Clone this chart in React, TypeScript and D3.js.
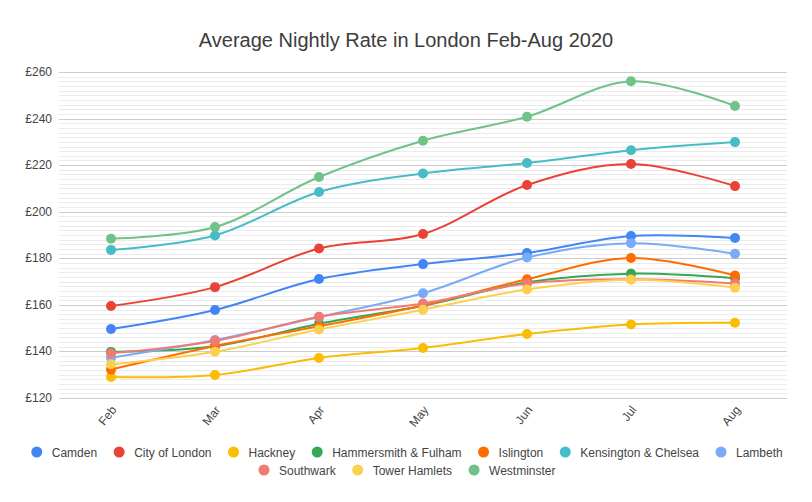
import { useEffect, useRef } from 'react';
import * as d3 from 'd3';

const months = ['Feb', 'Mar', 'Apr', 'May', 'Jun', 'Jul', 'Aug'];

const camden = [149.6, 157.8, 171.1, 177.5, 182.3, 189.6, 188.7];
const cityOfLondon = [159.5, 167.6, 184.2, 190.4, 211.5, 220.5, 211.0];
const hackney = [129.0, 129.9, 137.2, 141.5, 147.5, 151.6, 152.3];
const hammersmith = [139.8, 142.2, 151.9, 159.6, 169.7, 173.4, 171.4];
const islington = [132.2, 142.3, 150.8, 159.7, 171.0, 180.1, 172.6];
const kensington = [183.6, 189.8, 208.5, 216.4, 220.9, 226.4, 229.9];
const lambeth = [137.3, 144.9, 154.8, 165.0, 180.3, 186.5, 181.9];
const southwark = [139.2, 144.5, 154.9, 160.6, 169.2, 171.0, 169.2];
const towerHamlets = [134.5, 139.9, 149.4, 157.9, 166.6, 170.8, 167.4];
const westminster = [188.4, 193.4, 214.9, 230.5, 240.8, 256.0, 245.4];

const seriesNames = [
  'Camden',
  'City of London',
  'Hackney',
  'Hammersmith & Fulham',
  'Islington',
  'Kensington & Chelsea',
  'Lambeth',
  'Southwark',
  'Tower Hamlets',
  'Westminster',
];
const seriesValues = [
  camden, cityOfLondon, hackney, hammersmith, islington,
  kensington, lambeth, southwark, towerHamlets, westminster,
];
const colors = [
  '#4285F4', '#EA4335', '#FBBC04', '#34A853', '#FF6D01',
  '#46BDC6', '#7BAAF7', '#F07B72', '#FCD04F', '#71C287',
];

const yTicks = [120, 140, 160, 180, 200, 220, 240, 260];
const title = 'Average Nightly Rate in London Feb-Aug 2020';

const W = 812;
const H = 502;
const FONT = '"Liberation Sans", Arial, sans-serif';

export default function App() {
  const svgRef = useRef<SVGSVGElement>(null);

  useEffect(() => {
    if (!svgRef.current) return;
    const svg = d3.select(svgRef.current);
    svg.selectAll('*').remove();

    const left = 59;
    const right = 787;
    const top = 72;
    const bottom = 398;

    const x = d3.scaleBand().domain(months).range([left, right]);
    const y = d3.scaleLinear().domain([120, 260]).range([bottom, top]);
    const cx = (m: string) => (x(m) ?? 0) + x.bandwidth() / 2;

    svg.append('rect').attr('width', W).attr('height', H).attr('fill', '#fff');

    svg.append('text')
      .attr('x', 406)
      .attr('y', 47)
      .attr('text-anchor', 'middle')
      .attr('fill', '#3c3c3c')
      .style('font-family', FONT)
      .style('font-size', '20px')
      .text(title);

    // minor gridlines every £2
    const minor = d3.range(122, 260, 2).filter((v) => v % 20 !== 0);
    svg.append('g')
      .selectAll('line')
      .data(minor)
      .join('line')
      .attr('x1', left)
      .attr('x2', right)
      .attr('y1', (d) => Math.round(y(d)) + 0.5)
      .attr('y2', (d) => Math.round(y(d)) + 0.5)
      .attr('stroke', '#ebebeb');

    svg.append('g')
      .selectAll('line')
      .data(yTicks)
      .join('line')
      .attr('x1', left)
      .attr('x2', right)
      .attr('y1', (d) => Math.round(y(d)) + 0.5)
      .attr('y2', (d) => Math.round(y(d)) + 0.5)
      .attr('stroke', '#cccccc');

    svg.append('g')
      .selectAll('text')
      .data(yTicks)
      .join('text')
      .attr('x', 52)
      .attr('y', (d) => y(d) + 4)
      .attr('text-anchor', 'end')
      .attr('fill', '#444')
      .style('font-family', FONT)
      .style('font-size', '12px')
      .text((d) => `£${d}`);

    svg.append('g')
      .selectAll('text')
      .data(months)
      .join('text')
      .attr('transform', (d) => `translate(${cx(d) + 6},${bottom + 12}) rotate(-52)`)
      .attr('text-anchor', 'end')
      .attr('fill', '#444')
      .style('font-family', FONT)
      .style('font-size', '12px')
      .text((d) => d);

    const line = d3
      .line<number>()
      .x((_, i) => cx(months[i]))
      .y((d) => y(d))
      .curve(d3.curveCatmullRom.alpha(0.5));

    seriesValues.forEach((vals, si) => {
      const g = svg.append('g');
      g.append('path')
        .attr('d', line(vals) ?? '')
        .attr('fill', 'none')
        .attr('stroke', colors[si])
        .attr('stroke-width', 2);
      g.selectAll('circle')
        .data(vals)
        .join('circle')
        .attr('cx', (_, i) => cx(months[i]))
        .attr('cy', (d) => y(d))
        .attr('r', 5)
        .attr('fill', colors[si]);
    });

    // legend, two centred rows
    const rows = [seriesNames.slice(0, 7), seriesNames.slice(7)];
    const rowY = [452, 470];
    const r = 5.5;
    const textGap = 15;
    const itemGap = 22;
    const legend = svg.append('g');
    rows.forEach((names, ri) => {
      const items = names.map((name) => {
        const t = legend.append('text')
          .style('font-family', FONT)
          .style('font-size', '12px')
          .text(name);
        const w = (t.node() as SVGTextElement).getComputedTextLength();
        t.remove();
        return { name, w };
      });
      const total = r + d3.sum(items, (d) => textGap + d.w) + itemGap * (items.length - 1);
      let xPos = 407 - total / 2 + r;
      items.forEach((it) => {
        const idx = seriesNames.indexOf(it.name);
        legend.append('circle')
          .attr('cx', xPos)
          .attr('cy', rowY[ri])
          .attr('r', r)
          .attr('fill', colors[idx]);
        legend.append('text')
          .attr('x', xPos + textGap)
          .attr('y', rowY[ri] + 4.5)
          .attr('fill', '#444')
          .style('font-family', FONT)
          .style('font-size', '12px')
          .text(it.name);
        xPos += textGap + it.w + itemGap;
      });
    });
  }, []);

  return (
    <svg
      ref={svgRef}
      width={W}
      height={H}
      style={{ position: 'fixed', top: 0, left: 0, display: 'block' }}
    />
  );
}
